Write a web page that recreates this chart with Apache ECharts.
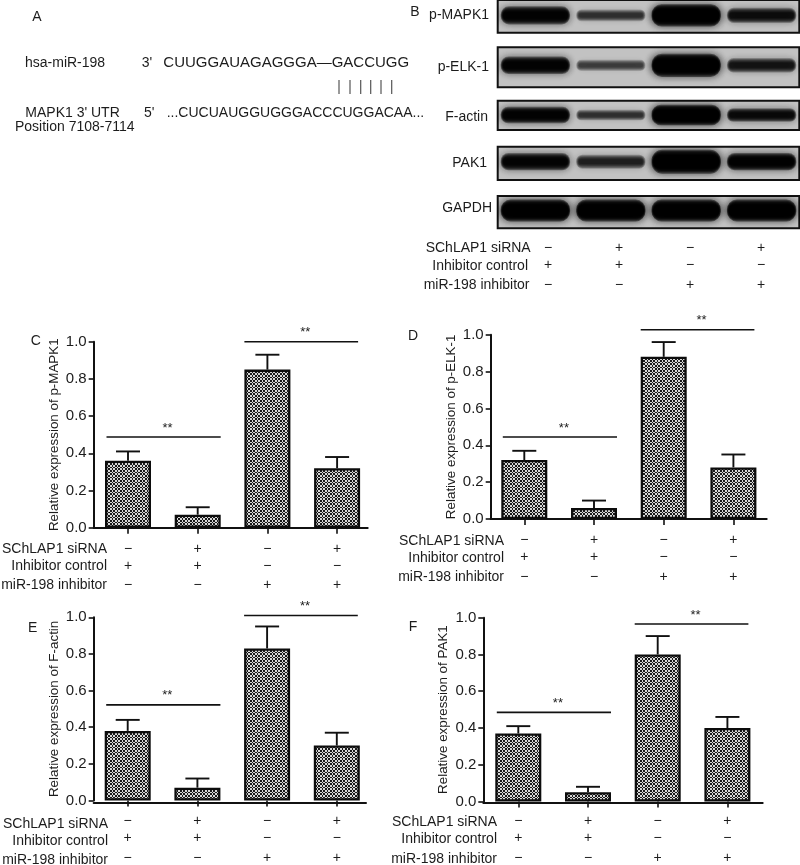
<!DOCTYPE html>
<html><head><meta charset="utf-8">
<style>html,body{margin:0;padding:0;background:#fff}#c{width:800px;height:865px}</style>
<script src="https://cdn.jsdelivr.net/npm/echarts@6/dist/echarts.min.js"></script>
</head><body><div id="c"></div>
<script>
// ---- data ----
const rowNames = ['SChLAP1 siRNA', 'Inhibitor control', 'miR-198 inhibitor'];
const rowSchlap = ['\u2212', '+', '\u2212', '+'];
const rowControl = ['+', '+', '\u2212', '\u2212'];
const rowInhibitor = ['\u2212', '\u2212', '+', '+'];
const tickLabels = ['0.0', '0.2', '0.4', '0.6', '0.8', '1.0'];

const valuesC = [0.36, 0.07, 0.85, 0.32];
const errTopC = [0.41, 0.11, 0.93, 0.38];
const sigC = [0.488, 1.0];
const valuesD = [0.32, 0.06, 0.88, 0.28];
const errTopD = [0.37, 0.10, 0.96, 0.35];
const sigD = [0.445, 1.027];
const valuesE = [0.38, 0.07, 0.83, 0.30];
const errTopE = [0.44, 0.12, 0.95, 0.37];
const sigE = [0.522, 1.01];
const valuesF = [0.37, 0.05, 0.80, 0.40];
const errTopF = [0.41, 0.08, 0.90, 0.46];
const sigF = [0.485, 0.966];

const blotNames = ['p-MAPK1', 'p-ELK-1', 'F-actin', 'PAK1', 'GAPDH'];
const densityMAPK = [0.96, 0.72, 0.99, 0.9];
const densityELK = [0.96, 0.66, 0.99, 0.86];
const densityActin = [0.96, 0.72, 0.99, 0.92];
const densityPAK = [0.95, 0.8, 0.99, 0.97];
const densityGAPDH = [0.99, 0.99, 0.99, 0.99];
const thickMAPK = [0.56, 0.36, 0.68, 0.46];
const thickELK = [0.44, 0.28, 0.58, 0.36];
const thickActin = [0.56, 0.36, 0.7, 0.46];
const thickPAK = [0.52, 0.42, 0.72, 0.52];
const thickGAPDH = [0.68, 0.68, 0.68, 0.68];

// ---- layout and style ----
const FONT = '"Liberation Sans", Arial, sans-serif';
const INK = '#1c1c1c';
const panels = [
  {v: valuesC, e: errTopC, s: sigC, name: 'Relative expression of p-MAPK1', first: 128, top: 341.7, zero: 527.7, axisX: 93.7, endX: 367.7, rowY: 549, rowRight: 107, margin: 13},
  {v: valuesD, e: errTopD, s: sigD, name: 'Relative expression of p-ELK-1', first: 524.3, top: 334.7, zero: 519, axisX: 490.7, endX: 766.7, rowY: 540.7, rowRight: 504, margin: 13.5},
  {v: valuesE, e: errTopE, s: sigE, name: 'Relative expression of F-actin', first: 127.7, top: 617.3, zero: 802.7, axisX: 93.7, endX: 366, rowY: 823.7, rowRight: 108, margin: 13},
  {v: valuesF, e: errTopF, s: sigF, name: 'Relative expression of PAK1', first: 518.3, top: 617.7, zero: 802.3, axisX: 483.3, endX: 762.7, rowY: 822.3, rowRight: 497, margin: 12}
];
const BAND = 69.7;
const blots = [
  {d: densityMAPK, t: thickMAPK, top: 0, h: 32.7, c: 0.53, labelRight: 489, labelY: 15},
  {d: densityELK, t: thickELK, top: 47.3, h: 40, c: 0.55, labelRight: 489, labelY: 67},
  {d: densityActin, t: thickActin, top: 100.7, h: 29.3, c: 0.51, labelRight: 488, labelY: 117},
  {d: densityPAK, t: thickPAK, top: 146.7, h: 33.3, c: 0.55, labelRight: 487, labelY: 163},
  {d: densityGAPDH, t: thickGAPDH, top: 196, h: 32.3, c: 0.55, labelRight: 492, labelY: 208}
];

function checker() {
  const n = 10, cv = document.createElement('canvas');
  cv.width = cv.height = n;
  const g = cv.getContext('2d');
  const cell = 5 / 3;
  for (let y = 0; y < n; y++) for (let x = 0; x < n; x++) {
    const on = (Math.floor((x + 0.5) / cell) + Math.floor((y + 0.5) / cell)) % 2 === 0;
    g.fillStyle = on ? '#1a1a1a' : '#d8d8d8';
    g.fillRect(x, y, 1, 1);
  }
  return cv;
}
const pattern = {image: checker(), repeat: 'repeat'};

function rowLabel(i) {
  return rowSchlap[i] + '\n' + rowControl[i] + '\n' + rowInhibitor[i];
}
const categories = rowSchlap.map((_, i) => rowLabel(i));
function richFormatter(value) {
  const p = value.split('\n');
  return '{a|' + p[0] + '}\n{b|' + p[1] + '}\n{c|' + p[2] + '}';
}
const richStyle = {
  a: {lineHeight: 16, fontSize: 14, fontFamily: FONT, color: INK},
  b: {lineHeight: 18, fontSize: 14, fontFamily: FONT, color: INK},
  c: {lineHeight: 21, fontSize: 14, fontFamily: FONT, color: INK}
};

const grids = [], xAxes = [], yAxes = [], series = [], graphics = [];

function txt(x, y, text, align, size, color) {
  graphics.push({type: 'text', silent: true, style: {
    x, y, text, fill: color || INK, font: (size || 14) + 'px ' + FONT,
    textAlign: align || 'left', textVerticalAlign: 'middle'}});
}

panels.forEach(p => {
  const left = p.first - BAND / 2;
  const gi = grids.length;
  grids.push({left, width: BAND * 4, top: p.top, height: p.zero - p.top, containLabel: false});
  xAxes.push({
    type: 'category', gridIndex: gi, data: categories, boundaryGap: true,
    axisLine: {show: false},
    axisTick: {show: true, alignWithLabel: true, length: 6, lineStyle: {color: '#111', width: 1.6}},
    axisLabel: {interval: 0, margin: p.margin, formatter: richFormatter, rich: richStyle, hideOverlap: false},
    splitLine: {show: false}
  });
  yAxes.push({
    type: 'value', gridIndex: gi, min: 0, max: 1, interval: 0.2, offset: left - p.axisX,
    name: p.name, nameLocation: 'middle', nameGap: 33,
    nameTextStyle: {fontFamily: FONT, fontSize: 13.4, color: INK},
    axisLine: {show: true, lineStyle: {color: '#111', width: 2}},
    axisTick: {show: true, length: 5, lineStyle: {color: '#111', width: 1.6}},
    axisLabel: {margin: 7, fontFamily: FONT, fontSize: 15, color: INK,
      formatter: (v) => tickLabels[Math.round(v / 0.2)]},
    splitLine: {show: false}
  });
  // baseline that runs a little short of the last band
  const bi = grids.length;
  grids.push({left: p.axisX, width: p.endX - p.axisX, top: p.top, height: p.zero - p.top});
  xAxes.push({type: 'value', gridIndex: bi, min: 0, max: 1, position: 'bottom',
    axisLine: {show: true, onZero: false, lineStyle: {color: '#111', width: 2}},
    axisTick: {show: false}, axisLabel: {show: false}, splitLine: {show: false}});
  yAxes.push({type: 'value', gridIndex: bi, min: 0, max: 1, show: false});

  series.push({
    type: 'bar', xAxisIndex: gi, yAxisIndex: gi, data: p.v, barWidth: 46, silent: true, animation: false,
    itemStyle: {color: pattern, borderColor: '#0c0c0c', borderWidth: 2.3}
  });
  series.push({
    type: 'custom', xAxisIndex: gi, yAxisIndex: gi, silent: true, animation: false, clip: false,
    data: p.v.map((v, i) => [i, v, p.e[i]]),
    renderItem: (params, api) => {
      const base = api.coord([api.value(0), api.value(1)]);
      const top = api.coord([api.value(0), api.value(2)]);
      const st = {stroke: '#111', lineWidth: 1.9, fill: null};
      return {type: 'group', children: [
        {type: 'line', shape: {x1: base[0], y1: base[1], x2: top[0], y2: top[1]}, style: st},
        {type: 'line', shape: {x1: top[0] - 12, y1: top[1], x2: top[0] + 12, y2: top[1]}, style: st}
      ]};
    }
  });
  series.push({
    type: 'custom', xAxisIndex: gi, yAxisIndex: gi, silent: true, animation: false, clip: false,
    data: [[0, 1, p.s[0], -21.5, 23], [2, 3, p.s[1], -23, 21]],
    renderItem: (params, api) => {
      const a = api.coord([api.value(0), api.value(2)]);
      const b = api.coord([api.value(1), api.value(2)]);
      const x1 = a[0] + api.value(3), x2 = b[0] + api.value(4);
      return {type: 'group', children: [
        {type: 'line', shape: {x1, y1: a[1], x2, y2: a[1]}, style: {stroke: '#111', lineWidth: 1.6}},
        {type: 'text', style: {x: (x1 + x2) / 2 + 4, y: a[1] - 9, text: '**', fill: INK,
          font: '13px ' + FONT, textAlign: 'center', textVerticalAlign: 'middle'}}
      ]};
    }
  });
  rowNames.forEach((n, i) => txt(p.rowRight, p.rowY + [0, 17, 36.5][i], n, 'right'));
});

// western-blot strips: each band is a stack of soft translucent layers, so it darkens towards its core
const LAYERS = 7;
blots.forEach((b, k) => {
  const gi = grids.length;
  grids.push({left: 497.7, width: 301.6, top: b.top, height: b.h, show: true,
    backgroundColor: '#c2c2c2', borderColor: '#111', borderWidth: 2, z: 0});
  xAxes.push({type: 'category', gridIndex: gi, data: [0, 1, 2, 3], show: false});
  yAxes.push({type: 'value', gridIndex: gi, min: 0, max: 1, show: false});
  series.push({
    type: 'custom', xAxisIndex: gi, yAxisIndex: gi, silent: true, animation: false, clip: true,
    data: b.d.map((d, i) => [i, b.c, b.t[i], d]),
    renderItem: (params, api) => {
      const c = api.coord([api.value(0), api.value(1)]);
      const sz = api.size([1, api.value(2)]);
      const w = sz[0], h = sz[1], d = api.value(3);
      const alpha = 1 - Math.pow(1 - d, 1 / LAYERS);
      const col = 'rgba(0,0,0,' + alpha.toFixed(3) + ')';
      const children = [];
      for (let j = 0; j < LAYERS; j++) {
        const ww = w * (0.92 - 0.012 * j), hh = h * (1 - 0.11 * j);
        children.push({type: 'rect',
          shape: {x: c[0] - ww / 2, y: c[1] - hh / 2, width: ww, height: hh, r: hh / 2.2},
          style: {fill: col, shadowBlur: 8, shadowColor: col}});
      }
      return {type: 'group', children};
    }
  });
  txt(b.labelRight, b.labelY, blotNames[k], 'right');
});

// the row table under the blots
const tb = grids.length;
grids.push({left: 512.5, width: 284, top: 200, height: 33.5});
xAxes.push({type: 'category', gridIndex: tb, data: categories,
  axisLine: {show: false}, axisTick: {show: false},
  axisLabel: {interval: 0, margin: 7, formatter: richFormatter, rich: richStyle}});
yAxes.push({type: 'value', gridIndex: tb, min: 0, max: 1, show: false});
series.push({type: 'bar', xAxisIndex: tb, yAxisIndex: tb, data: [], silent: true});
[[530.7, 248], [528, 265.7], [529.5, 285]].forEach((q, i) => txt(q[0], q[1], rowNames[i], 'right'));

// panel A
txt(37, 17, 'A', 'center');
txt(25, 62.7, 'hsa-miR-198');
txt(141.7, 62.7, "3'");
txt(163.3, 62.7, 'CUUGGAUAGAGGGA\u2014GACCUGG', 'left', 15);
txt(25.3, 112.7, "MAPK1 3' UTR");
txt(144, 112.7, "5'");
txt(166.7, 112.7, '...CUCUAUGGUGGGACCCUGGACAA...');
txt(15, 127.3, 'Position 7108-7114');
[339, 350, 360.7, 370.7, 381, 391.7].forEach(x => graphics.push({
  type: 'line', silent: true, shape: {x1: x, y1: 80, x2: x, y2: 94}, style: {stroke: '#555', lineWidth: 1.2}}));

// panel letters
[['B', 415, 12], ['C', 35.7, 340.7], ['D', 413, 335.7], ['E', 32.7, 628], ['F', 413, 627]]
  .forEach(l => txt(l[1], l[2], l[0], 'center'));

const chart = echarts.init(document.getElementById('c'), null, {renderer: 'canvas'});
chart.setOption({
  animation: false, backgroundColor: '#fff',
  grid: grids, xAxis: xAxes, yAxis: yAxes, series,
  graphic: {elements: graphics}
});
</script></body></html>
